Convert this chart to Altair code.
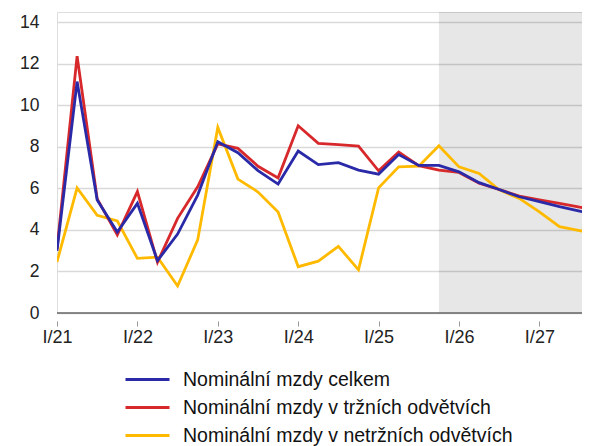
import altair as alt
import pandas as pd

quarters = ["I/21", "II/21", "III/21", "IV/21",
            "I/22", "II/22", "III/22", "IV/22",
            "I/23", "II/23", "III/23", "IV/23",
            "I/24", "II/24", "III/24", "IV/24",
            "I/25", "II/25", "III/25", "IV/25",
            "I/26", "II/26", "III/26", "IV/26",
            "I/27", "II/27", "III/27", "IV/27"]

s_total = "Nominální mzdy celkem"
s_market = "Nominální mzdy v tržních odvětvích"
s_nonmarket = "Nominální mzdy v netržních odvětvích"

total = [3.0, 11.15, 5.44, 3.9, 5.28, 2.52, 3.8, 5.68, 8.25, 7.72, 6.86, 6.21,
         7.8, 7.15, 7.24, 6.88, 6.69, 7.63, 7.11, 7.11, 6.8, 6.28, 5.95, 5.6,
         5.37, 5.12, 4.91, 4.7]
market = [3.1, 12.37, 5.5, 3.76, 5.85, 2.45, 4.56, 6.08, 8.15, 7.93, 7.07, 6.51,
          9.02, 8.17, 8.11, 8.04, 6.85, 7.75, 7.1, 6.88, 6.77, 6.25, 5.95, 5.63,
          5.45, 5.28, 5.1, 4.95]
nonmarket = [2.46, 6.03, 4.71, 4.44, 2.63, 2.69, 1.3, 3.52, 8.94, 6.45, 5.83, 4.87,
             2.23, 2.5, 3.21, 2.08, 6.03, 7.04, 7.07, 8.06, 7.04, 6.72, 5.93, 5.52,
             4.87, 4.16, 3.97, 3.8]

forecast_start = "IV/25"
series_names = [s_total, s_market, s_nonmarket]
series_colors = ["#2a2aa8", "#d7282b", "#ffba00"]

W, H = 525, 301
x_max = 26.12

def frame(name, vals):
    return pd.DataFrame({"idx": list(range(len(quarters))), "q": quarters,
                         "value": vals, "series": name})

label_expr = "[" + ",".join("'" + q + "'" for q in quarters) + "][datum.value]"

x_scale = alt.Scale(domain=[0, x_max], nice=False, zero=False)
X = alt.X("idx:Q",
          scale=x_scale,
          axis=alt.Axis(values=[i for i, q in enumerate(quarters) if q.startswith("I/")],
                        labelExpr=label_expr, title=None, domain=False, grid=False,
                        ticks=True, tickSize=5, tickColor="#999999", tickWidth=1,
                        offset=8, labelPadding=2, labelFontSize=18, labelColor="#222222",
                        labelFont="Liberation Sans", labelFlush=False))
Y = alt.Y("value:Q",
          scale=alt.Scale(domain=[0, 14.5], nice=False),
          axis=alt.Axis(values=list(range(0, 15, 2)), title=None, domain=False, ticks=False,
                        grid=True, gridColor="#d9d9d9", gridWidth=1.5,
                        labelFontSize=17.5, labelPadding=18, labelColor="#222222",
                        labelFont="Liberation Sans"))
C = alt.Color("series:N",
              scale=alt.Scale(domain=series_names, range=series_colors),
              legend=alt.Legend(title=None, orient="none", legendX=79, legendY=356,
                                direction="vertical", symbolType="M-2.2,0H2.2",
                                symbolSize=400, symbolStrokeWidth=3,
                                labelFontSize=19.5, labelOffset=24, rowPadding=7,
                                padding=0, labelLimit=0, labelColor="#111111",
                                labelFont="Liberation Sans"))

fc = pd.DataFrame({"start": [quarters.index(forecast_start)], "end": [len(quarters) - 1]})
shade = alt.Chart(fc).mark_rect(color="#000000", opacity=0.095, clip=True).encode(
    x=alt.X("start:Q", scale=x_scale),
    x2="end:Q",
    y=alt.value(0), y2=alt.value(H))

zero = alt.Chart(pd.DataFrame({"value": [0]})).mark_rule(color="#666666", strokeWidth=1.5).encode(y=Y)

def line(name, vals):
    return alt.Chart(frame(name, vals)).mark_line(strokeWidth=2.8, clip=True).encode(
        x=X, y=Y, color=C)

chart = alt.layer(
    shade, zero,
    line(s_nonmarket, nonmarket),
    line(s_market, market),
    line(s_total, total),
).properties(
    width=W, height=H,
    autosize=alt.AutoSizeParams(type="none"),
    padding={"left": 49, "top": 4, "right": 0, "bottom": 133},
).configure_view(stroke=None).configure(font="Liberation Sans")

chart.save("out.html", embed_options={"renderer": "svg", "actions": False})
